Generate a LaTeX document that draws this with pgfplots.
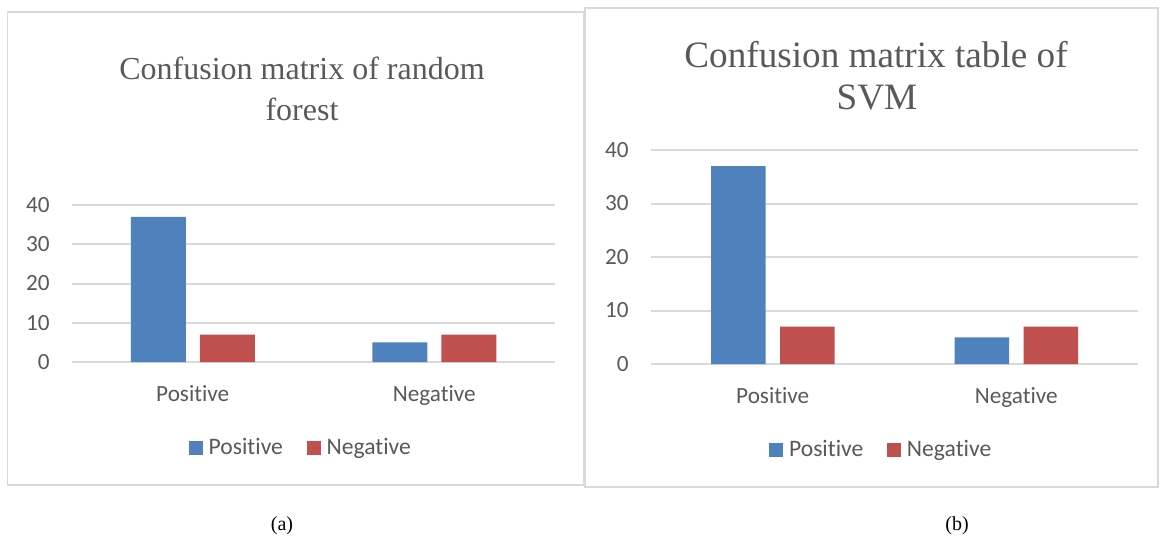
\documentclass[border=0pt]{standalone}
\usepackage{graphicx}
\usepackage{fontspec}
\setmainfont{Liberation Serif}
\newfontfamily\calibri[Ligatures=NoCommon]{Carlito}
\usepackage{pgfplots}
\pgfplotsset{compat=1.18}
\definecolor{cblue}{HTML}{4F81BD}
\definecolor{cred}{HTML}{C0504D}
\definecolor{cgrid}{HTML}{D9D9D9}
\definecolor{ctext}{HTML}{595959}
\pgfplotsset{
  mybars/.style={
    scale only axis,
    xmin=-0.5, xmax=1.5, ymin=0, ymax=40,
    ytick={0,10,20,30,40},
    xtick={0,1}, xticklabels={Positive,Negative},
    ymajorgrids, xmajorgrids=false,
    major grid style={draw=cgrid, line width=1pt},
    axis line style={draw=none},
    major tick length=0pt,
    tick style={draw=none},
    /pgf/number format/assume math mode=true,
    tick label style={font=\calibri\fontsize{11.6}{13}\selectfont, text=ctext},
    yticklabel style={inner sep=0pt, xshift=-11pt},
    xticklabel style={inner sep=0pt, yshift=-11.7pt},
    legend columns=2,
    legend style={draw=none, fill=none, font=\calibri\fontsize{11.8}{13}\selectfont, text=ctext,
      anchor=center,
      /tikz/every even column/.append style={column sep=10.5pt},
      /tikz/every odd column/.append style={column sep=1.5pt},
      nodes={inner sep=1.5pt}},
    legend image code/.code={\fill[##1] (0pt,-3.4pt) rectangle (6.8pt,3.4pt);},
  }
}
\begin{document}
\begin{tikzpicture}
\useasboundingbox (0pt,0pt) rectangle (580pt,-268.5pt);
% frames
\draw[cgrid, line width=0.75pt] (3.85pt,-6pt) rectangle (292pt,-242.5pt);
\draw[cgrid, line width=0.75pt] (292.5pt,-4pt) rectangle (579pt,-243.5pt);
% left chart
\begin{axis}[mybars, at={(36pt,-181pt)}, anchor=south west, width=241.5pt, height=78.5pt,
  legend style={at={(0.475,-0.548)}}]
\addplot[ybar, fill=cblue, draw=none, bar width=27.5pt, bar shift=-17.25pt] coordinates {(0,37) (1,5)};
\addlegendentry{Positive}
\addplot[ybar, fill=cred, draw=none, bar width=27.5pt, bar shift=17.25pt] coordinates {(0,7) (1,7)};
\addlegendentry{Negative}
\end{axis}
% right chart
\begin{axis}[mybars, at={(325.5pt,-182pt)}, anchor=south west, width=243.5pt, height=107pt,
  legend style={at={(0.474,-0.402)}}]
\addplot[ybar, fill=cblue, draw=none, bar width=27.25pt, bar shift=-17.25pt] coordinates {(0,37) (1,5)};
\addlegendentry{Positive}
\addplot[ybar, fill=cred, draw=none, bar width=27.25pt, bar shift=17.25pt] coordinates {(0,7) (1,7)};
\addlegendentry{Negative}
\end{axis}
% titles
\node[anchor=base, text=ctext, inner sep=0pt, font=\fontsize{16}{19}\selectfont] at (151pt,-39.5pt) {Confusion matrix of random};
\node[anchor=base, text=ctext, inner sep=0pt, font=\fontsize{16}{19}\selectfont] at (151pt,-60pt) {forest};
\node[anchor=base, text=ctext, inner sep=0pt, font=\fontsize{18.6}{21}\selectfont] at (438pt,-33.5pt) {Confusion matrix table of};
\node[anchor=base, text=ctext, inner sep=0pt, font=\fontsize{18.6}{21}\selectfont] at (438.5pt,-54.5pt) {SVM};
% captions
\node[anchor=base, inner sep=0pt, font=\fontsize{10}{12}\selectfont] at (141pt,-265pt) {(a)};
\node[anchor=base, inner sep=0pt, font=\fontsize{10}{12}\selectfont] at (478.5pt,-265pt) {(b)};
\end{tikzpicture}
\end{document}
